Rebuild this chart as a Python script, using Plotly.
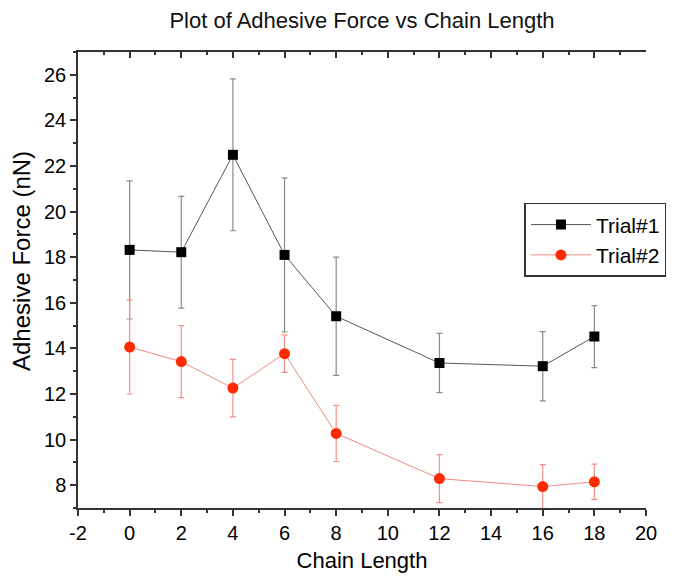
import plotly.graph_objects as go

chain_length = [0, 2, 4, 6, 8, 12, 16, 18]
trial1 = [18.32, 18.22, 22.49, 18.10, 15.41, 13.36, 13.22, 14.52]
trial1_err = [3.03, 2.45, 3.33, 3.38, 2.59, 1.30, 1.52, 1.36]
trial2 = [14.06, 13.42, 12.26, 13.77, 10.27, 8.29, 7.94, 8.15]
trial2_err = [2.06, 1.58, 1.26, 0.82, 1.23, 1.05, 0.96, 0.77]

x_ticks = list(range(-2, 21, 2))
y_ticks = list(range(8, 27, 2))

FONT = "Liberation Sans, Arial, sans-serif"
W, H = 668, 570
ML, MR, MT, MB = 70, 30, 44, 70
PW, PH = W - ML - MR, H - MT - MB

fig = go.Figure()
fig.add_trace(go.Scatter(
    x=chain_length, y=trial1, name="Trial#1", mode="lines+markers",
    line=dict(color="#555555", width=1),
    marker=dict(symbol="square", size=10, color="black"),
    error_y=dict(type="data", array=trial1_err, visible=True,
                 color="#8a8a8a", thickness=1.2, width=3),
))
fig.add_trace(go.Scatter(
    x=chain_length, y=trial2, name="Trial#2", mode="lines+markers",
    line=dict(color="#f08a80", width=1),
    marker=dict(symbol="circle", size=11, color="#ff2a00"),
    error_y=dict(type="data", array=trial2_err, visible=True,
                 color="#f4908a", thickness=1.2, width=3),
))
# invisible trace to anchor top mirror axis
fig.add_trace(go.Scatter(
    x=chain_length, y=trial1, xaxis="x2", mode="markers",
    marker=dict(opacity=0), showlegend=False, hoverinfo="skip",
))

fig.update_layout(
    width=W, height=H,
    paper_bgcolor="white", plot_bgcolor="white",
    margin=dict(l=ML, r=MR, t=MT, b=MB, autoexpand=False),
    font=dict(family=FONT, color="black", size=20),
    title=dict(text="Plot of Adhesive Force vs Chain Length",
               x=0.5, xref="paper", xanchor="center",
               y=1 - 12 / H, yanchor="middle",
               font=dict(family=FONT, size=22, color="#111111")),
    xaxis=dict(
        range=[-2, 20], tickvals=x_ticks, ticktext=[str(v) for v in x_ticks],
        showgrid=False, zeroline=False, showline=True, linecolor="#333333",
        linewidth=1.5, ticks="outside", ticklen=6, tickwidth=1.5, tickcolor="#333333",
        minor=dict(ticks="outside", dtick=1, ticklen=3, tickwidth=1.5, tickcolor="#333333"),
        tickfont=dict(size=20), automargin=False,
        title=dict(text="Chain Length", font=dict(size=22), standoff=10),
    ),
    xaxis2=dict(
        range=[-2, 20], overlaying="x", side="top", tickvals=x_ticks,
        showticklabels=False, showgrid=False, zeroline=False, showline=True,
        linecolor="#333333", linewidth=1.5, ticks="inside", ticklen=6, tickwidth=1.5,
        tickcolor="#333333", automargin=False,
        minor=dict(ticks="inside", dtick=1, ticklen=3, tickwidth=1.5, tickcolor="#333333"),
    ),
    yaxis=dict(
        range=[7, 27], tickvals=y_ticks, ticktext=[str(v) for v in y_ticks],
        showgrid=False, zeroline=False, showline=True, linecolor="#333333",
        linewidth=1.5, ticks="outside", ticklen=6, tickwidth=1.5, tickcolor="#333333",
        minor=dict(ticks="outside", dtick=1, ticklen=3, tickwidth=1.5, tickcolor="#333333"),
        tickfont=dict(size=20), automargin=False,
    ),
    legend=dict(
        x=0.786, xref="paper", y=0.669, yref="paper", xanchor="left", yanchor="top",
        bordercolor="#333333", borderwidth=1.5, bgcolor="white",
        font=dict(size=21), itemwidth=60, tracegroupgap=0,
    ),
    showlegend=True,
)

fig.add_annotation(
    text="Adhesive Force (nN)", textangle=-90, showarrow=False,
    xref="paper", yref="paper",
    x=(14 - ML) / PW, y=1 - (253 - MT) / PH,
    xanchor="center", yanchor="middle",
    font=dict(family=FONT, size=24, color="black"),
)

fig.write_html("out.html")
